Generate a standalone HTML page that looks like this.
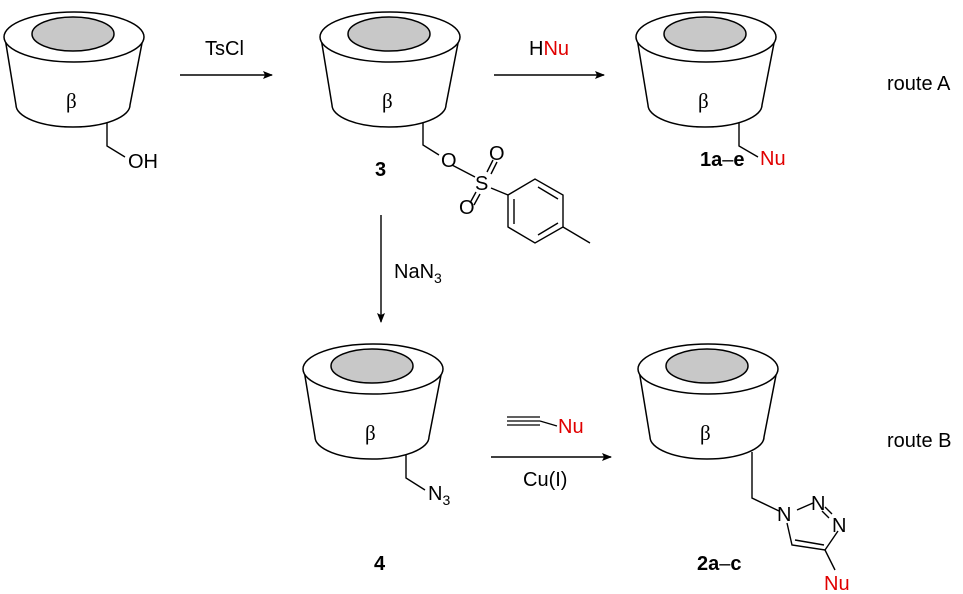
<!DOCTYPE html>
<html><head><meta charset="utf-8"><style>
html,body{margin:0;padding:0;background:#fff}
svg{display:block}
text{font-family:"Liberation Sans",Arial,sans-serif;font-size:20px;fill:#000;stroke:none}
.r{fill:#e00000}
.b{font-weight:bold}
</style></head><body>
<svg width="963" height="594" viewBox="0 0 963 594" xmlns="http://www.w3.org/2000/svg">
<defs>
<g id="cup">
<path d="M5,38 L16,105 A57,22 0 0 0 130,105 L143,38" fill="#fff" stroke="#000" stroke-width="1.5"/>
<ellipse cx="74" cy="37" rx="70" ry="25" fill="#fff" stroke="#000" stroke-width="1.5"/>
<ellipse cx="73" cy="34" rx="41" ry="17" fill="#c8c8c8" stroke="#000" stroke-width="1.5"/>
<text x="66" y="108" style="font-family:'Liberation Serif',serif;font-size:21px;stroke:none;font-weight:normal">β</text>
</g>
<marker id="ah" markerWidth="10" markerHeight="8" refX="9" refY="4" orient="auto" markerUnits="userSpaceOnUse"><path d="M0,0 L10,4 L0,8 L2,4Z" fill="#000" stroke="none"/></marker>
</defs>
<use href="#cup"/>
<use href="#cup" x="316"/>
<use href="#cup" x="632"/>
<use href="#cup" x="299" y="332"/>
<use href="#cup" x="634" y="332"/>
<g fill="none" stroke="#000" stroke-width="1.4">
<path d="M107,123 L107,146 L125,157"/>
<path d="M423,123 L423,145 L439,155"/>
<path d="M452,165 L475,177"/>
<path d="M487,172 L493,160 M491,174 L497,162"/>
<path d="M476,192 L470,203 M480,194 L474,205"/>
<path d="M491,188 L508,195"/>
<path d="M508,195 L535,179 L563,195 L563,227 L535,243 L508,227 Z"/>
<path d="M514,199 L514,224 M538,187 L558,199 M538,235 L558,223"/>
<path d="M563,227 L590,243"/>
<path d="M739,123 L739,146 L758,157"/>
<path d="M406,455 L406,478 L425,490"/>
<path d="M752,452 L752,498 L779,511"/>
<path d="M797,510 L813,503"/>
<path d="M825,507 L832,514 M822,511 L829,518"/>
<path d="M838,531 L825,550 L792,545 L787,523"/>
<path d="M824,545 L795,540"/>
<path d="M825,550 L835,570"/>
<path d="M180,75 L272,75" marker-end="url(#ah)"/>
<path d="M494,75 L604,75" marker-end="url(#ah)"/>
<path d="M381,215 L381,322" marker-end="url(#ah)"/>
<path d="M491,457 L611,457" marker-end="url(#ah)"/>
<path d="M507,417 L540,417 M507,421 L540,421 M507,425 L540,425 M540,421 L557,426" stroke-width="1.2"/>
</g>
<text x="128" y="168">OH</text>
<text x="441" y="167">O</text>
<text x="475" y="190">S</text>
<text x="489" y="160">O</text>
<text x="459" y="214">O</text>
<text x="760" y="165" class="r">Nu</text>
<text x="428" y="500">N<tspan font-size="14" dy="5">3</tspan></text>
<text x="777" y="521">N</text>
<text x="811" y="510">N</text>
<text x="832" y="532">N</text>
<text x="824" y="590" class="r">Nu</text>
<text x="205" y="55">TsCl</text>
<text x="529" y="55">H<tspan class="r">Nu</tspan></text>
<text x="394" y="278">NaN<tspan font-size="14" dy="5">3</tspan></text>
<text x="558" y="433" class="r">Nu</text>
<text x="523" y="486">Cu(I)</text>
<text x="375" y="176" class="b">3</text>
<text x="700" y="166" class="b">1a<tspan font-weight="normal">–</tspan>e</text>
<text x="374" y="570" class="b">4</text>
<text x="697" y="570" class="b">2a<tspan font-weight="normal">–</tspan>c</text>
<text x="887" y="90">route A</text>
<text x="887" y="447">route B</text>
</svg>
</body></html>
